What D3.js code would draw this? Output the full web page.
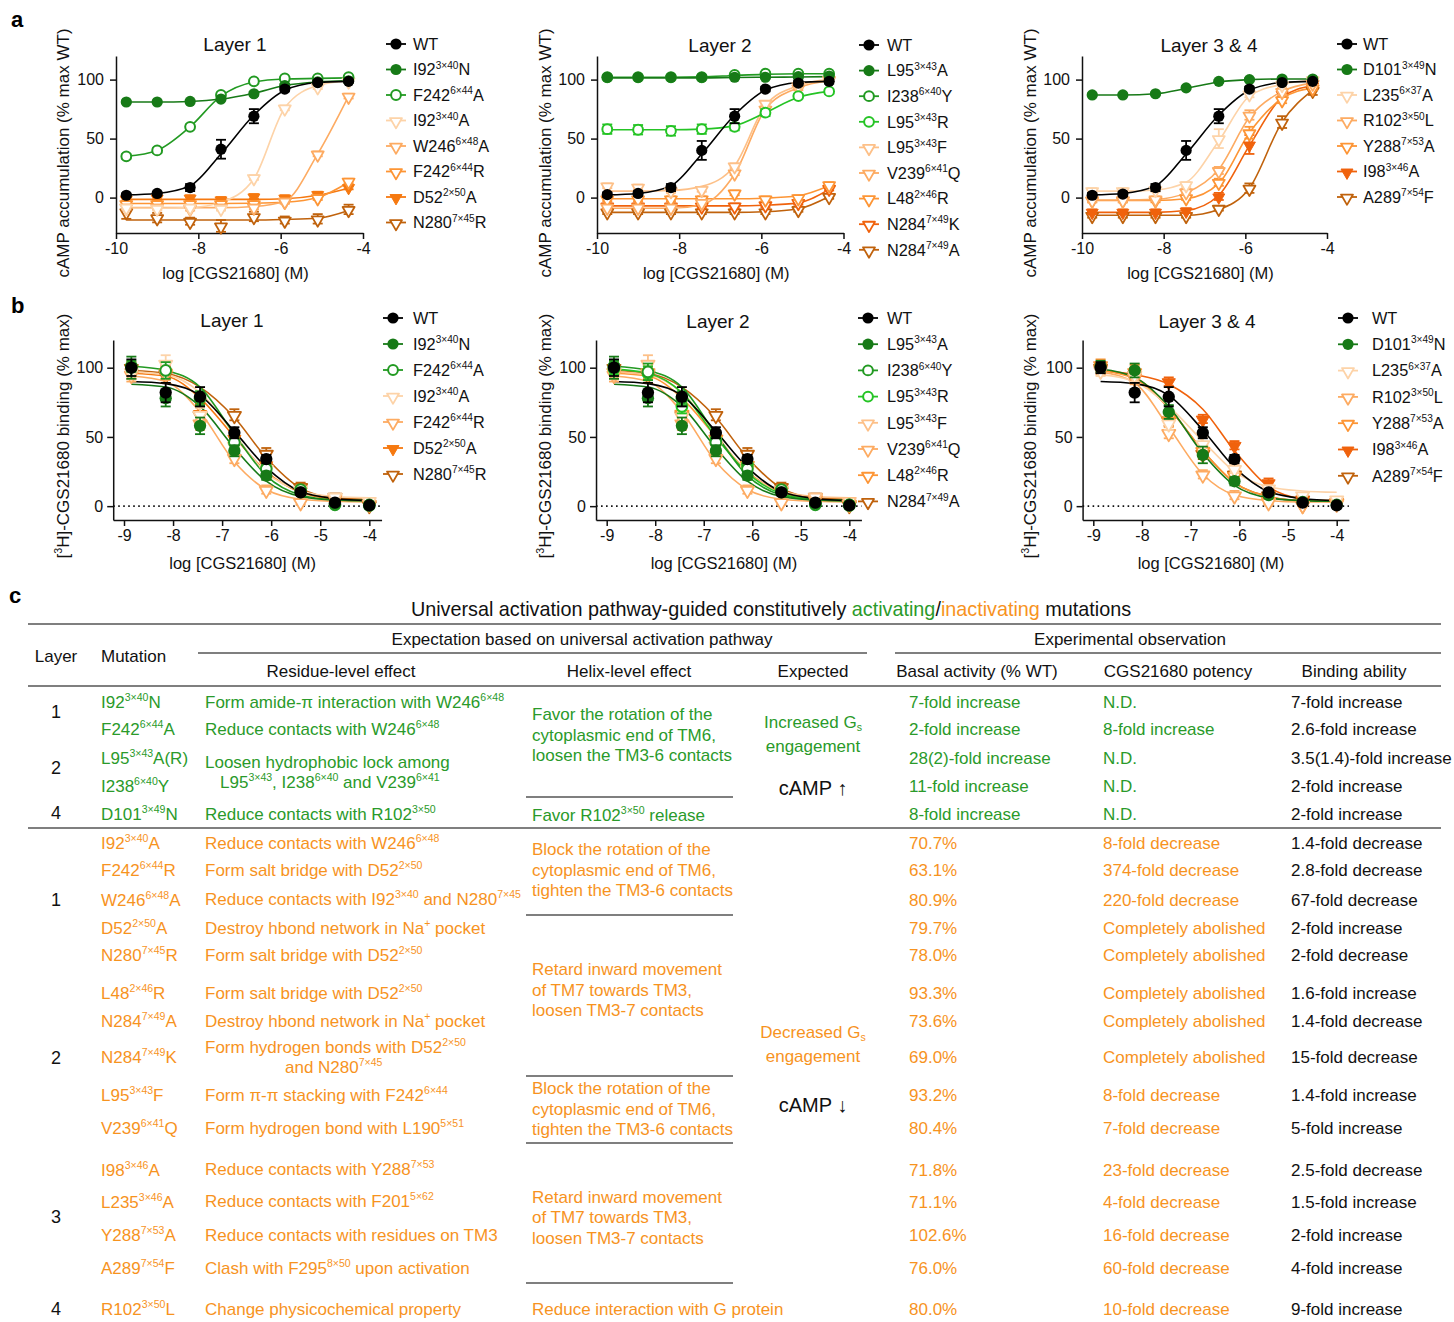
<!DOCTYPE html>
<html><head><meta charset="utf-8">
<script src="https://cdn.jsdelivr.net/npm/d3@7"></script>
<style>body{margin:0;background:#fff}</style>
</head><body>
<svg id="fig" width="1454" height="1322"></svg>
<script>
// ---------------- DATA ----------------
const camp_logx = [-9.75, -9.0, -8.2, -7.45, -6.65, -5.9, -5.1, -4.35];
const bind_logx = [-8.85, -8.15, -7.45, -6.75, -6.1, -5.4, -4.7, -4.0];
const camp_xticks = [-10, -8, -6, -4];
const bind_xticks = [-9, -8, -7, -6, -5, -4];
const yticks = [0, 50, 100];

// panel a, Layer 1
const a1_names = ["WT", "I92{3×40}N", "F242{6×44}A", "I92{3×40}A", "W246{6×48}A", "F242{6×44}R", "D52{2×50}A", "N280{7×45}R"];
const a1_vals = [
  [2, 3.5, 8.5, 41, 69, 92, 97.5, 98.5],
  [81, 81, 81.5, 83.5, 88, 95, 98, 99],
  [35, 40, 60, 87, 98.5, 101, 101, 102],
  [-8, -9, -8, -9, 17, 76, 94, 99],
  [-8, -8, -9, -8, -8, -3, 37, 86],
  [-5, -5, -5, -5, -5, -3, 0, 14],
  [-1, 0, 0, -1.5, 1, 0, 3, 9],
  [-12, -17, -20, -24, -16, -19, -18, -10]
];
const a1_fits = [
  [2.3, 3.5, 10, 37, 70, 91, 97.5, 98.5],
  [81, 81, 81.5, 83.5, 88.5, 95, 98, 99],
  [35, 40, 60, 86, 98, 100.5, 101, 101.5],
  [-9, -9, -8.5, -4, 16, 76, 95, 99],
  [-8.5, -8.5, -8.5, -8.5, -7.5, -3, 37, 86],
  [-5, -5, -5, -5, -4.8, -4, 0, 13],
  [-1.5, -1.5, -1.5, -1.5, -1.5, -1, 2, 8],
  [-19, -19, -19, -19, -19, -18.5, -17.5, -11]
];
const a1_errs = [
  [1.5, 1.5, 3, 8, 6, 2, 1, 1],
  [1, 1, 1, 1, 1.5, 1, 1, 1],
  [2, 2, 2, 2, 1.5, 1, 1, 1],
  [2, 2, 2, 2, 2, 2, 2, 2],
  [2, 2, 2, 2, 2, 2, 2, 2],
  [2, 2, 2, 2, 2, 2, 2, 2],
  [2, 2, 2, 2, 2, 2, 2, 2],
  [6, 4, 3, 5, 4, 3, 4, 4]
];

// panel a, Layer 2
const a2_names = ["WT", "L95{3×43}A", "I238{6×40}Y", "L95{3×43}R", "L95{3×43}F", "V239{6×41}Q", "L48{2×46}R", "N284{7×49}K", "N284{7×49}A"];
const a2_vals = [
  [2.5, 3.5, 8.5, 40, 69, 92, 97, 98.5],
  [102, 102, 102, 102, 102, 102, 102.5, 103],
  [102, 102, 102, 102, 104, 105, 105, 105],
  [58, 57.5, 56.5, 58, 60, 72, 86, 90],
  [10, 9, 6, 7, 27, 80, 95, 100],
  [-8, -8, -8, -4, 21, 75, 93, 100],
  [-1, -1, -1, -1, 4, -1, 0, 11],
  [-7, -7, -7, -7, -7, -6, -4, 8],
  [-12, -12, -12, -12, -12, -12, -10, 1]
];
const a2_fits = [
  [2.3, 3.5, 10, 37, 70, 91, 97.5, 98.5],
  [101.5, 101.5, 101.5, 101.5, 101.8, 102, 102.2, 102.5],
  [102, 102, 102, 102.3, 103.5, 104.5, 105, 105],
  [57.5, 57.5, 57.5, 58, 61, 72, 85, 90],
  [5.5, 5.5, 6, 9.5, 27, 78, 95, 100],
  [-9, -9, -9, -6, 20, 75, 93, 99],
  [-1, -1, -1, -1, -1, -0.5, 1.5, 10],
  [-7, -7, -7, -7, -7, -6.5, -4.5, 7],
  [-12.5, -12.5, -12.5, -12.5, -12.5, -12, -9.5, 1]
];
const a2_errs = [
  [2, 2, 3, 8, 6, 2, 2, 2],
  [1, 1, 1, 1, 1, 1, 1, 1],
  [1, 1, 1, 1, 1, 1, 1, 1],
  [4, 4, 4, 4, 3, 3, 2, 2],
  [2, 2, 2, 2, 2, 2, 2, 2],
  [2, 2, 2, 2, 2, 2, 2, 2],
  [2, 2, 2, 2, 2, 2, 2, 2],
  [2, 2, 2, 2, 2, 2, 2, 2],
  [2, 2, 2, 2, 2, 2, 2, 2]
];

// panel a, Layer 3 & 4
const a3_names = ["WT", "D101{3×49}N", "L235{6×37}A", "R102{3×50}L", "Y288{7×53}A", "I98{3×46}A", "A289{7×54}F"];
const a3_vals = [
  [2, 3, 8.5, 40, 69, 92, 97.5, 98.5],
  [87, 87, 88, 93, 98.5, 100, 100.5, 100.5],
  [6, 6, 7, 11, 50, 88, 96, 100],
  [-2, -2, -1, 5, 23, 70, 90, 97],
  [-2, -2, -2, 0, 13, 55, 83, 93],
  [-12, -12, -12, -11, 1, 45, 88, 95],
  [-15, -15, -15, -15, -9, 8, 64, 91]
];
const a3_fits = [
  [2.3, 3.5, 10, 37, 70, 91, 97.5, 98.5],
  [87, 87, 88, 92.5, 98, 100, 100.5, 100.5],
  [5.5, 5.5, 6.5, 13, 48, 86, 96, 99.5],
  [-2, -2, -1.5, 4, 24, 68, 90, 97],
  [-2.5, -2.5, -2.5, -1, 12, 55, 84, 93],
  [-12.5, -12.5, -12.5, -11, 2, 44, 85, 95],
  [-15, -15, -15, -15, -10, 8, 64, 91]
];
const a3_errs = [
  [2, 2, 3, 8, 6, 2, 1, 1],
  [1, 1, 1, 1, 1, 1, 1, 1],
  [2, 2, 2, 2, 8, 3, 2, 2],
  [2, 2, 2, 2, 3, 4, 3, 2],
  [2, 2, 2, 2, 3, 5, 3, 2],
  [2, 2, 2, 2, 3, 8, 3, 2],
  [2, 2, 2, 2, 2, 4, 5, 4]
];

// panel b, Layer 1
const b1_names = ["WT", "I92{3×40}N", "F242{6×44}A", "I92{3×40}A", "F242{6×44}R", "D52{2×50}A", "N280{7×45}R"];
const b1_vals = [
  [100, 82, 79, 53, 34, 10, 2.5, 0.5],
  [100, 78, 58, 40, 22, 10, 2, 1],
  [101, 98, 78, 46, 27, 12, 1, 0.5],
  [97, 103, 66, 44, 27, 12, 7, 4],
  [95, 96, 60, 35, 12, 3, 6, 2],
  [97, 97, 67, 49, 30, 11, 5, 2],
  [100, 95, 66, 66, 38, 14, 7, 1]
];
const b1_fits = [
  [90, 88.5, 80, 54, 28, 10.5, 5.5, 4],
  [88, 86, 72, 42, 18, 7, 4.5, 4],
  [101, 98, 86, 52, 22, 8, 4.5, 4],
  [97, 95, 82, 52, 24, 11, 7, 6],
  [94, 90, 68, 32, 12, 5, 3.5, 3],
  [96, 94, 78, 50, 25, 10, 5, 4],
  [98, 96, 86, 64, 35, 13, 6, 5]
];
const b1_errs = [
  [6, 7, 7, 4, 3, 2, 1, 1],
  [8, 6, 6, 4, 3, 2, 1, 1],
  [4, 6, 5, 4, 3, 2, 1, 1],
  [5, 6, 5, 4, 3, 2, 1, 1],
  [5, 5, 5, 4, 3, 2, 1, 1],
  [5, 5, 5, 4, 3, 2, 1, 1],
  [4, 6, 8, 4, 4, 3, 2, 2]
];

// panel b, Layer 2
const b2_names = ["WT", "L95{3×43}A", "I238{6×40}Y", "L95{3×43}R", "L95{3×43}F", "V239{6×41}Q", "L48{2×46}R", "N284{7×49}A"];
const b2_vals = [
  [100, 82, 79, 53, 34, 10, 2.5, 0.5],
  [100, 78, 58, 40, 22, 10, 2, 1],
  [101, 97, 78, 46, 27, 12, 1, 0.5],
  [99, 96, 72, 48, 30, 11, 2, 1],
  [97, 103, 65, 44, 27, 12, 7, 4],
  [95, 96, 60, 35, 12, 3, 6, 2],
  [97, 97, 67, 49, 30, 11, 5, 2],
  [100, 95, 66, 66, 38, 14, 7, 1]
];
const b2_fits = [
  [90, 88.5, 80, 54, 28, 10.5, 5.5, 4],
  [88, 86, 72, 42, 18, 7, 4.5, 4],
  [101, 98, 86, 52, 22, 8, 4.5, 4],
  [99, 96, 82, 50, 24, 9, 5, 4],
  [97, 95, 82, 52, 24, 11, 7, 6],
  [94, 90, 68, 32, 12, 5, 3.5, 3],
  [96, 94, 78, 50, 25, 10, 5, 4],
  [98, 96, 86, 64, 35, 13, 6, 5]
];
const b2_errs = [
  [6, 7, 7, 4, 3, 2, 1, 1],
  [8, 6, 6, 4, 3, 2, 1, 1],
  [4, 6, 5, 4, 3, 2, 1, 1],
  [4, 5, 5, 4, 3, 2, 1, 1],
  [5, 6, 5, 4, 3, 2, 1, 1],
  [5, 5, 5, 4, 3, 2, 1, 1],
  [5, 5, 5, 4, 3, 2, 1, 1],
  [4, 6, 8, 4, 4, 3, 2, 2]
];

// panel b, Layer 3 & 4
const b3_names = ["WT", "D101{3×49}N", "L235{6×37}A", "R102{3×50}L", "Y288{7×53}A", "I98{3×46}A", "A289{7×54}F"];
const b3_vals = [
  [100, 82, 79, 53, 34, 10, 2.5, 0.5],
  [101, 98, 68, 37, 18, 8, 3, 1],
  [98, 95, 60, 45, 27, 13, 8, 5],
  [99, 93, 53, 23, 8, 3, 1, 2],
  [102, 97, 62, 40, 22, 4, 1, 3],
  [100, 92, 90, 63, 44, 17, 5, 3],
  [100, 95, 62, 38, 23, 8, 5, 3]
];
const b3_fits = [
  [90, 88.5, 80, 55, 28, 10.5, 5.5, 4],
  [99, 93, 72, 38, 15, 6, 4, 3.5],
  [95, 90, 72, 47, 25, 14, 11, 10],
  [97, 89, 57, 23, 8, 4, 3, 3],
  [98, 92, 71, 40, 17, 7, 4, 4],
  [98, 95, 88, 70, 40, 14, 5, 3],
  [98, 93, 71, 40, 17, 7, 4, 4]
];
const b3_errs = [
  [4, 7, 7, 4, 3, 2, 1, 1],
  [4, 5, 5, 6, 3, 2, 1, 1],
  [4, 5, 5, 5, 3, 2, 1, 1],
  [4, 5, 4, 3, 3, 2, 1, 1],
  [4, 5, 4, 4, 3, 2, 1, 1],
  [3, 3, 3, 3, 3, 3, 2, 1],
  [4, 5, 4, 4, 3, 2, 1, 1]
];

// table c
const act_layers = ["1", "2", "4"];
const act_mut = ["I92{3×40}N", "F242{6×44}A", "L95{3×43}A(R)", "I238{6×40}Y", "D101{3×49}N"];
const act_residue = ["Form amide-π interaction with W246{6×48}", "Reduce contacts with W246{6×48}", "Loosen hydrophobic lock among", "L95{3×43}, I238{6×40} and V239{6×41}", "Reduce contacts with R102{3×50}"];
const act_helix = ["Favor the rotation of the", "cytoplasmic end of TM6,", "loosen the TM3-6 contacts", "Favor R102{3×50} release"];
const act_expected = ["Increased G«s»", "engagement", "cAMP ↑"];
const act_basal = ["7-fold increase", "2-fold increase", "28(2)-fold increase", "11-fold increase", "8-fold increase"];
const act_potency = ["N.D.", "8-fold increase", "N.D.", "N.D.", "N.D."];
const act_binding = ["7-fold increase", "2.6-fold increase", "3.5(1.4)-fold increase", "2-fold increase", "2-fold increase"];

const inact_layers = ["1", "2", "3", "4"];
const inact_mut = ["I92{3×40}A", "F242{6×44}R", "W246{6×48}A", "D52{2×50}A", "N280{7×45}R", "L48{2×46}R", "N284{7×49}A", "N284{7×49}K", "L95{3×43}F", "V239{6×41}Q", "I98{3×46}A", "L235{3×46}A", "Y288{7×53}A", "A289{7×54}F", "R102{3×50}L"];
const inact_residue = ["Reduce contacts with W246{6×48}", "Form salt bridge with D52{2×50}", "Reduce contacts with I92{3×40} and N280{7×45}", "Destroy hbond network in Na{+} pocket", "Form salt bridge with D52{2×50}", "Form salt bridge with D52{2×50}", "Destroy hbond network in Na{+} pocket", "Form hydrogen bonds with D52{2×50}", "and N280{7×45}", "Form π-π stacking with F242{6×44}", "Form hydrogen bond with L190{5×51}", "Reduce contacts with Y288{7×53}", "Reduce contacts with F201{5×62}", "Reduce contacts with residues on TM3", "Clash with F295{8×50} upon activation", "Change physicochemical property"];
const inact_helix = ["Block the rotation of the", "cytoplasmic end of TM6,", "tighten the TM3-6 contacts", "Retard inward movement", "of TM7 towards TM3,", "loosen TM3-7 contacts", "Block the rotation of the", "cytoplasmic end of TM6,", "tighten the TM3-6 contacts", "Retard inward movement", "of TM7 towards TM3,", "loosen TM3-7 contacts", "Reduce interaction with G protein"];
const inact_expected = ["Decreased G«s»", "engagement", "cAMP ↓"];
const inact_basal = ["70.7%", "63.1%", "80.9%", "79.7%", "78.0%", "93.3%", "73.6%", "69.0%", "93.2%", "80.4%", "71.8%", "71.1%", "102.6%", "76.0%", "80.0%"];
const inact_potency = ["8-fold decrease", "374-fold decrease", "220-fold decrease", "Completely abolished", "Completely abolished", "Completely abolished", "Completely abolished", "Completely abolished", "8-fold decrease", "7-fold decrease", "23-fold decrease", "4-fold decrease", "16-fold decrease", "60-fold decrease", "10-fold decrease"];
const inact_binding = ["1.4-fold decrease", "2.8-fold decrease", "67-fold decrease", "2-fold increase", "2-fold decrease", "1.6-fold increase", "1.4-fold decrease", "15-fold decrease", "1.4-fold increase", "5-fold increase", "2.5-fold decrease", "1.5-fold increase", "2-fold increase", "4-fold increase", "9-fold increase"];

// ---------------- STYLE / LAYOUT ----------------
const FONT = "'Liberation Sans', Arial, Helvetica, sans-serif";
const C = {
  wt: "#000000", dkgreen: "#177a17", green: "#229a22", ltgreen: "#25c425",
  pale: "#fdd3a8", pale2: "#fdc088", lorange: "#fdab62", orange: "#fd9535",
  dorange: "#f67910", rorange: "#f0620c", brown: "#c0620c",
  tgreen: "#2a9a2a", torange: "#f7931e"
};
const a1_colors = [C.wt, C.dkgreen, C.green, C.pale, C.lorange, C.orange, C.dorange, C.brown];
const a1_shapes = ["fc", "fc", "oc", "ot", "ot", "ot", "ft", "ot"];
const a2_colors = [C.wt, C.dkgreen, C.green, C.ltgreen, C.pale2, C.lorange, C.orange, C.rorange, C.brown];
const a2_shapes = ["fc", "fc", "oc", "oc", "ot", "ot", "ot", "ot", "ot"];
const a3_colors = [C.wt, C.dkgreen, C.pale, C.lorange, C.orange, C.rorange, C.brown];
const a3_shapes = ["fc", "fc", "ot", "ot", "ot", "ft", "ot"];
const b1_colors = [C.wt, C.dkgreen, C.green, C.pale, C.lorange, C.dorange, C.brown];
const b1_shapes = ["fc", "fc", "oc", "ot", "ot", "ft", "ot"];
const b2_colors = [C.wt, C.dkgreen, C.green, C.ltgreen, C.pale2, C.lorange, C.orange, C.brown];
const b2_shapes = ["fc", "fc", "oc", "oc", "ot", "ot", "ot", "ot"];
const b3_colors = [C.wt, C.dkgreen, C.pale, C.lorange, C.orange, C.rorange, C.brown];
const b3_shapes = ["fc", "fc", "ot", "ot", "ot", "ft", "ot"];

const svg = d3.select("#fig");
svg.append("rect").attr("width", 1454).attr("height", 1322).attr("fill", "#fff");

// markup: {..} superscript, «..» subscript
function rich(t, str, fs) {
  const parts = str.split(/(\{[^}]*\}|«[^»]*»)/).filter(s => s.length);
  let cur = 0;
  parts.forEach(p => {
    let target = 0, small = false, txt = p;
    if (p[0] === "{") { target = -0.4 * fs; small = true; txt = p.slice(1, -1); }
    else if (p[0] === "«") { target = 0.2 * fs; small = true; txt = p.slice(1, -1); }
    const ts = t.append("tspan").attr("dy", target - cur).text(txt);
    if (small) ts.attr("font-size", fs * 0.62);
    cur = target;
  });
}
function txt(x, yc, str, fs, color, anchor, weight) {
  const t = svg.append("text").attr("x", x).attr("y", yc + fs * 0.35)
    .attr("font-size", fs).attr("font-family", FONT).attr("fill", color || "#111")
    .attr("text-anchor", anchor || "start");
  if (weight) t.attr("font-weight", weight);
  rich(t, str, fs);
  return t;
}
function marker(g, shape, color, cx, cy, big) {
  const k = big ? 1.1 : 1;
  if (shape === "fc") g.append("circle").attr("cx", cx).attr("cy", cy).attr("r", 5.6 * k).attr("fill", color);
  else if (shape === "oc") g.append("circle").attr("cx", cx).attr("cy", cy).attr("r", 4.9 * k)
    .attr("fill", "#fff").attr("stroke", color).attr("stroke-width", 2);
  else {
    const p = d3.symbol(d3.symbolTriangle, 62 * k * k)();
    g.append("path").attr("d", p).attr("transform", `translate(${cx},${cy + 1}) rotate(180)`)
      .attr("fill", shape === "ft" ? color : "#fff").attr("stroke", color)
      .attr("stroke-width", shape === "ft" ? 1 : 1.8).attr("stroke-linejoin", "round");
  }
}

function chart(o) {
  const g = svg.append("g");
  const xa = d3.scaleLinear().domain(o.anchorD).range(o.anchorR);
  const x = d3.scaleLinear().domain(o.xd).range([xa(o.xd[0]), xa(o.xd[1])]);
  const y = d3.scaleLinear().domain(o.yd).range(o.yr);
  const xAxis = g.append("g").attr("transform", `translate(0,${o.yr[0]})`)
    .call(d3.axisBottom(x).tickValues(o.xt).tickSize(6).tickSizeOuter(0).tickPadding(4).tickFormat(d => String(d)));
  const yAxis = g.append("g").attr("transform", `translate(${x.range()[0]},0)`)
    .call(d3.axisLeft(y).tickValues(yticks).tickSize(6).tickSizeOuter(0).tickPadding(o.ypad).tickFormat(d => String(d)));
  [xAxis, yAxis].forEach(a => {
    a.selectAll("path,line").attr("stroke", "#111").attr("stroke-width", 1.5);
    a.selectAll("text").attr("font-size", 16).attr("font-family", FONT).attr("fill", "#111");
  });
  if (o.dotted) g.append("line").attr("x1", x.range()[0]).attr("x2", x.range()[1])
    .attr("y1", y(0)).attr("y2", y(0)).attr("stroke", "#111").attr("stroke-width", 1.6).attr("stroke-dasharray", "1.6,3.4");

  const idx = d3.range(o.names.length).reverse();
  const line = d3.line().x((d, i) => x(o.xs[i])).y(d => y(d)).curve(d3.curveMonotoneX);
  idx.forEach(s => {
    g.append("path").attr("d", line(o.fits[s])).attr("fill", "none").attr("stroke", o.colors[s]).attr("stroke-width", 1.6);
  });
  idx.forEach(s => {
    o.vals[s].forEach((v, i) => {
      const e = o.errs[s][i], cx = x(o.xs[i]);
      if (e > 0) {
        const y1 = y(v - e), y2 = y(v + e);
        g.append("line").attr("x1", cx).attr("x2", cx).attr("y1", y1).attr("y2", y2).attr("stroke", o.colors[s]).attr("stroke-width", 1.8);
        [y1, y2].forEach(yy => g.append("line").attr("x1", cx - 5).attr("x2", cx + 5).attr("y1", yy).attr("y2", yy).attr("stroke", o.colors[s]).attr("stroke-width", 1.8));
      }
    });
    o.vals[s].forEach((v, i) => marker(g, o.shapes[s], o.colors[s], x(o.xs[i]), y(v), o.big));
  });
  // title and labels
  txt(o.titleX, o.titleY, o.title, 19, "#111", "middle");
  const xc = (x(o.xt[0]) + x(o.xt[o.xt.length - 1])) / 2 - 4;
  txt(xc, o.xlabY, "log [CGS21680] (M)", 16.5, "#111", "middle");
  const yl = svg.append("text").attr("transform", `translate(${o.ylabX},${o.ylabY}) rotate(-90)`)
    .attr("font-size", 17).attr("font-family", FONT).attr("fill", "#111").attr("text-anchor", "middle").attr("y", 6);
  rich(yl, o.ylab, 17);
  // legend
  o.names.forEach((n, s) => {
    const ly = o.legY + s * o.legDy;
    g.append("line").attr("x1", o.legX - 10).attr("x2", o.legX + 10).attr("y1", ly).attr("y2", ly).attr("stroke", o.colors[s]).attr("stroke-width", 1.8);
    marker(g, o.shapes[s], o.colors[s], o.legX, ly, false);
    txt(o.legTX, ly, n, 16.3, "#111", "start");
  });
}

const campLab = "cAMP accumulation (% max WT)";
const bindLab = "[{3}H]-CGS21680 binding (% max)";
const campBase = { xd: [-10, -4], anchorD: [-10, -4], yd: [-30, 120], yr: [233, 56], xt: camp_xticks, xs: camp_logx, ypad: 6, xlabY: 273, ylabY: 153 };
const bindBase = { xd: [-9.22, -3.75], anchorD: [-9, -4], yd: [-10, 120], yr: [520, 340], xt: bind_xticks, xs: bind_logx, ypad: 4, xlabY: 563, ylabY: 436, dotted: true, big: true };

chart(Object.assign({}, campBase, { anchorR: [116, 363], names: a1_names, vals: a1_vals, fits: a1_fits, errs: a1_errs, colors: a1_colors, shapes: a1_shapes,
  title: "Layer 1", titleX: 235, titleY: 44, ylab: campLab, ylabX: 63, legX: 396, legTX: 413, legY: 44, legDy: 25.5 }));
chart(Object.assign({}, campBase, { anchorR: [597, 843.5], names: a2_names, vals: a2_vals, fits: a2_fits, errs: a2_errs, colors: a2_colors, shapes: a2_shapes,
  title: "Layer 2", titleX: 720, titleY: 45, ylab: campLab, ylabX: 545, legX: 869, legTX: 887, legY: 45, legDy: 25.6 }));
chart(Object.assign({}, campBase, { anchorR: [1082, 1327], names: a3_names, vals: a3_vals, fits: a3_fits, errs: a3_errs, colors: a3_colors, shapes: a3_shapes,
  title: "Layer 3 & 4", titleX: 1209, titleY: 45, ylab: campLab, ylabX: 1030, legX: 1347, legTX: 1363, legY: 44, legDy: 25.5 }));
chart(Object.assign({}, bindBase, { anchorR: [124, 369.3], names: b1_names, vals: b1_vals, fits: b1_fits, errs: b1_errs, colors: b1_colors, shapes: b1_shapes,
  title: "Layer 1", titleX: 232, titleY: 320, ylab: bindLab, ylabX: 63, legX: 393, legTX: 413, legY: 318, legDy: 26 }));
chart(Object.assign({}, bindBase, { anchorR: [606.7, 849.3], names: b2_names, vals: b2_vals, fits: b2_fits, errs: b2_errs, colors: b2_colors, shapes: b2_shapes,
  title: "Layer 2", titleX: 718, titleY: 321, ylab: bindLab, ylabX: 545, legX: 868, legTX: 887, legY: 318, legDy: 26.2 }));
chart(Object.assign({}, bindBase, { anchorR: [1093.3, 1336.7], names: b3_names, vals: b3_vals, fits: b3_fits, errs: b3_errs, colors: b3_colors, shapes: b3_shapes,
  title: "Layer 3 & 4", titleX: 1207, titleY: 321, ylab: bindLab, ylabX: 1030, legX: 1348, legTX: 1372, legY: 318, legDy: 26.3 }));

// panel letters
txt(11, 19, "a", 22, "#000", "start", "bold");
txt(11, 305, "b", 22, "#000", "start", "bold");
txt(9, 595, "c", 22, "#000", "start", "bold");

// ---------------- TABLE ----------------
const G = C.tgreen, O = C.torange, K = "#111";
const FS = 17;
function rule(x1, x2, yy, w) {
  svg.append("line").attr("x1", x1).attr("x2", x2).attr("y1", yy).attr("y2", yy).attr("stroke", "#555").attr("stroke-width", w || 1.3);
}
// title
const tt = svg.append("text").attr("x", 771).attr("y", 609 + 7).attr("font-size", 19.8).attr("font-family", FONT).attr("text-anchor", "middle").attr("fill", K);
tt.append("tspan").text("Universal activation pathway-guided constitutively ");
tt.append("tspan").attr("fill", G).text("activating");
tt.append("tspan").text("/");
tt.append("tspan").attr("fill", O).text("inactivating");
tt.append("tspan").text(" mutations");

rule(28, 1441, 624);
txt(582, 639, "Expectation based on universal activation pathway", FS, K, "middle");
txt(1130, 639, "Experimental observation", FS, K, "middle");
rule(198, 867, 653); rule(895, 1441, 653);
txt(56, 656, "Layer", FS, K, "middle");
txt(101, 656, "Mutation", FS, K, "start");
txt(341, 671, "Residue-level effect", FS, K, "middle");
txt(629, 671, "Helix-level effect", FS, K, "middle");
txt(813, 671, "Expected", FS, K, "middle");
txt(977, 671, "Basal activity (% WT)", FS, K, "middle");
txt(1178, 671, "CGS21680 potency", FS, K, "middle");
txt(1354, 671, "Binding ability", FS, K, "middle");
rule(28, 1441, 686);

// activating block
const actRowY = [702, 729, 758, 786, 814];
const actLayerY = [712, 768, 813];
const actResY = [702, 729, 762, 782, 814], actResX = [205, 205, 205, 220, 205];
const actHelixY = [714, 735, 755, 815];
const actExpY = [722, 746, 788];
act_layers.forEach((s, i) => txt(56, actLayerY[i], s, 18, K, "middle"));
act_mut.forEach((s, i) => txt(101, actRowY[i], s, FS, G));
act_residue.forEach((s, i) => txt(actResX[i], actResY[i], s, FS, G));
act_helix.forEach((s, i) => txt(532, actHelixY[i], s, FS, G));
rule(526, 733, 797);
act_expected.forEach((s, i) => txt(813, actExpY[i], s, i === 2 ? 20 : FS, i === 2 ? K : G, "middle"));
act_basal.forEach((s, i) => txt(909, actRowY[i], s, FS, G));
act_potency.forEach((s, i) => txt(1103, actRowY[i], s, FS, G));
act_binding.forEach((s, i) => txt(1291, actRowY[i], s, FS, K));
rule(28, 1441, 828, 1.6);

// inactivating block
const inRowY = [843, 870, 900, 928, 955, 993, 1021, 1057, 1095, 1128, 1170, 1202, 1235, 1268, 1309];
const inLayerY = [900, 1058, 1217, 1309];
const inResY = [843, 870, 899, 928, 955, 993, 1021, 1047, 1067, 1095, 1128, 1169, 1201, 1235, 1268, 1309];
const inResX = inact_residue.map((s, i) => i === 8 ? 285 : 205);
const inHelixY = [849, 870, 890, 969, 990, 1010, 1088, 1109, 1129, 1197, 1217, 1238, 1309];
const inRulesY = [915, 1076, 1143, 1283];
const inExpY = [1032, 1056, 1105];
inact_layers.forEach((s, i) => txt(56, inLayerY[i], s, 18, K, "middle"));
inact_mut.forEach((s, i) => txt(101, inRowY[i], s, FS, O));
inact_residue.forEach((s, i) => txt(inResX[i], inResY[i], s, FS, O));
inact_helix.forEach((s, i) => txt(532, inHelixY[i], s, FS, O));
inRulesY.forEach(yy => rule(526, 733, yy));
inact_expected.forEach((s, i) => txt(813, inExpY[i], s, i === 2 ? 20 : FS, i === 2 ? K : O, "middle"));
inact_basal.forEach((s, i) => txt(909, inRowY[i], s, FS, O));
inact_potency.forEach((s, i) => txt(1103, inRowY[i], s, FS, O));
inact_binding.forEach((s, i) => txt(1291, inRowY[i], s, FS, K));
</script>
</body></html>
